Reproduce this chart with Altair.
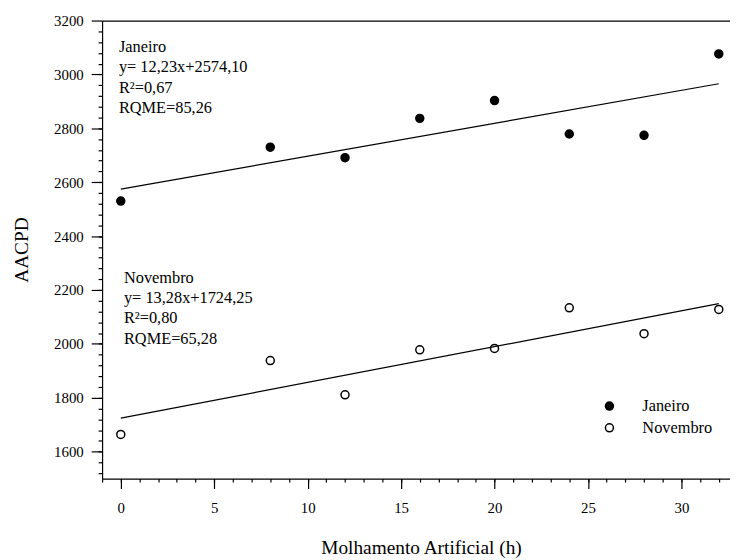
import altair as alt
import pandas as pd

# ---- data ----
horas = [0, 8, 12, 16, 20, 24, 28, 32]
janeiro = [2530, 2730, 2691, 2837, 2903, 2779, 2774, 3076]
novembro = [1664, 1938, 1811, 1978, 1983, 2134, 2038, 2128]

fit_x = [0, 32]
janeiro_fit = [2574.10, 2965.46]   # y = 12,23x + 2574,10
novembro_fit = [1724.25, 2149.21]  # y = 13,28x + 1724,25

series = ["Janeiro", "Novembro"]
annot_text = [
    "Janeiro\ny= 12,23x+2574,10\nR²=0,67\nRQME=85,26",
    "Novembro\ny= 13,28x+1724,25\nR²=0,80\nRQME=65,28",
]

x_major = [0, 5, 10, 15, 20, 25, 30]
x_minor = list(range(-1, 33))
y_major = list(range(1600, 3201, 200))
y_minor = list(range(1520, 3200, 40))

# ---- tables ----
pts = pd.DataFrame(
    {"h": horas * 2, "v": janeiro + novembro, "serie": ["Janeiro"] * 8 + ["Novembro"] * 8}
)
fit = pd.DataFrame(
    {"h": fit_x * 2, "v": janeiro_fit + novembro_fit, "serie": ["Janeiro"] * 2 + ["Novembro"] * 2}
)
ann = pd.DataFrame({"h": [-0.1, 0.17], "v": [3082, 2225], "t": annot_text})

FONT = "Liberation Serif"
xs = alt.Scale(domain=[-1, 32.6], nice=False, zero=False)
ys = alt.Scale(domain=[1500, 3200], nice=False, zero=False)

common = dict(labelFont=FONT, titleFont=FONT, labelFontSize=15, titleFontSize=19.5,
              titleFontWeight="normal", domainWidth=1.2, tickWidth=1.2, format="d",
              domainColor="black", tickColor="black", labelColor="black",
              titleColor="black", grid=False)

points = alt.Chart(pts).mark_point(
    shape="circle", filled=True, size=65, stroke="black", strokeWidth=1.5, opacity=1
).encode(
    x=alt.X("h:Q", scale=xs, axis=alt.Axis(
        orient="bottom", values=x_major, tickSize=10, labelPadding=12,
        title="Molhamento Artificial (h)", titleY=75.8, titleX=322, titleBaseline="alphabetic",
        **common,
    )),
    y=alt.Y("v:Q", scale=ys, axis=alt.Axis(
        orient="left", values=y_major, tickSize=11, labelPadding=8,
        title="AACPD", titleX=-75, titleBaseline="alphabetic",
        **common,
    )),
    fill=alt.Fill("serie:N", scale=alt.Scale(domain=series, range=["black", "white"]),
                  legend=alt.Legend(
                      title=None, orient="none", legendX=504, legendY=381,
                      symbolType="circle", symbolSize=65, symbolStrokeColor="black",
                      symbolStrokeWidth=1.5, labelOffset=25, rowPadding=5,
                      labelFont=FONT, labelFontSize=16.5, labelColor="black",
                  )),
)

lines = alt.Chart(fit).mark_line(color="black", strokeWidth=1.2).encode(
    x=alt.X("h:Q", scale=xs, axis=alt.Axis(
        orient="bottom", values=x_minor, tickSize=3.5, labels=False, domain=False,
        grid=False, title=None, tickColor="black", tickWidth=1.2,
    )),
    y=alt.Y("v:Q", scale=ys, axis=alt.Axis(
        orient="left", values=y_minor, tickSize=4, labels=False, domain=False,
        grid=False, title=None, tickColor="black", tickWidth=1.2,
    )),
    detail="serie:N",
)

notes = alt.Chart(ann).mark_text(
    align="left", baseline="alphabetic", font=FONT, fontSize=16.5, lineBreak="\n",
    lineHeight=20.3, color="black",
).encode(
    x=alt.X("h:Q", scale=xs, axis=alt.Axis(
        orient="top", ticks=False, labels=False, domain=True, grid=False, title=None,
        domainColor="black", domainWidth=1.2,
    )),
    y=alt.Y("v:Q", scale=ys, axis=None),
    text="t:N",
)

chart = alt.layer(points, lines, notes).resolve_axis(
    x="independent", y="independent"
).properties(
    width=634, height=462.5,
    padding={"left": 95, "top": 10, "right": 0, "bottom": 79.5},
    autosize=alt.AutoSizeParams(type="none"),
    background="white",
).configure_view(stroke=None)

chart.save("out.html", embed_options={"renderer": "svg", "actions": False})
